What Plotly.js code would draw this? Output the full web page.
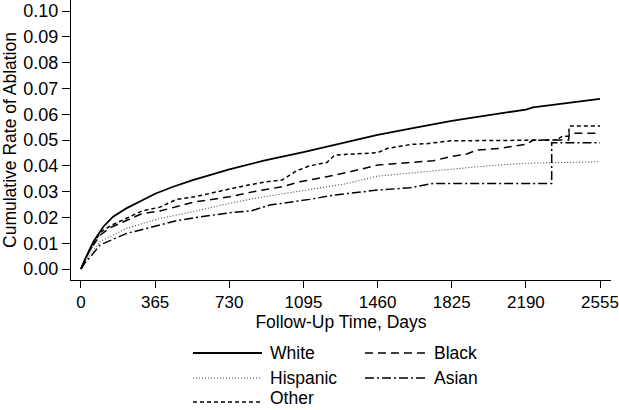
<!DOCTYPE html>
<html>
<head>
<meta charset="utf-8">
<script src="https://cdn.plot.ly/plotly-3.0.1.min.js"></script>
<style>html,body{margin:0;padding:0;background:#fff;}#chart{width:619px;height:410px;}</style>
</head>
<body>
<div id="chart"></div>
<script>
// ---- data ----
const seriesNames = ["White", "Black", "Hispanic", "Asian", "Other"];

const whiteDays = [0, 15, 30, 61, 110, 158, 225, 290, 365, 450, 550, 730, 900, 1095, 1280, 1460, 1640, 1825, 2000, 2190, 2225, 2300, 2420, 2555];
const whiteRate = [0, 0.003, 0.0055, 0.0106, 0.0164, 0.0203, 0.0236, 0.0262, 0.0292, 0.0318, 0.0345, 0.0386, 0.0420, 0.0453, 0.0486, 0.0520, 0.0547, 0.0574, 0.0596, 0.0618, 0.0627, 0.0635, 0.0647, 0.0660];

const blackDays = [0, 20, 50, 93, 143, 225, 300, 389, 480, 560, 730, 850, 990, 1078, 1210, 1324, 1461, 1620, 1735, 1817, 1899, 1948, 2063, 2194, 2227, 2400, 2404, 2555];
const blackRate = [0, 0.004, 0.008, 0.013, 0.016, 0.019, 0.0215, 0.0225, 0.0245, 0.026, 0.028, 0.030, 0.0319, 0.0338, 0.0358, 0.0377, 0.0403, 0.0412, 0.0420, 0.0435, 0.0446, 0.0461, 0.0468, 0.0484, 0.0500, 0.0500, 0.0526, 0.0526];

const hispanicDays = [0, 20, 50, 93, 225, 389, 552, 730, 900, 1095, 1300, 1460, 1650, 1825, 2000, 2190, 2300, 2400, 2555];
const hispanicRate = [0, 0.003, 0.006, 0.0106, 0.0158, 0.0196, 0.0222, 0.0255, 0.0280, 0.0303, 0.0330, 0.0360, 0.0375, 0.0388, 0.0400, 0.0410, 0.0412, 0.0415, 0.0416];

const asianDays = [0, 20, 50, 93, 225, 389, 475, 552, 730, 840, 930, 1125, 1250, 1460, 1620, 1735, 2317, 2317, 2555];
const asianRate = [0, 0.0025, 0.005, 0.0093, 0.0138, 0.0170, 0.0188, 0.0198, 0.0218, 0.0226, 0.0248, 0.0270, 0.0287, 0.0306, 0.0315, 0.0332, 0.0332, 0.0490, 0.0490];

const otherDays = [0, 20, 50, 93, 143, 225, 300, 389, 470, 560, 660, 730, 820, 910, 990, 1060, 1125, 1210, 1250, 1460, 1510, 1625, 1700, 1820, 2340, 2370, 2400, 2404, 2555];
const otherRate = [0, 0.004, 0.008, 0.014, 0.0167, 0.0197, 0.0225, 0.0240, 0.0270, 0.0280, 0.0296, 0.0310, 0.0325, 0.0338, 0.0345, 0.0380, 0.0400, 0.0413, 0.0442, 0.0451, 0.0468, 0.0483, 0.0486, 0.0497, 0.0500, 0.0515, 0.0515, 0.0554, 0.0554];

const xTicks = [0, 365, 730, 1095, 1460, 1825, 2190, 2555];
const yTicks = [0, 0.01, 0.02, 0.03, 0.04, 0.05, 0.06, 0.07, 0.08, 0.09, 0.10];

// ---- styles ----
const styles = {
  White:    {color: "#000", width: 1.8, dash: "solid"},
  Black:    {color: "#000", width: 1.5, dash: "8px,5px"},
  Hispanic: {color: "#444", width: 1.1, dash: "1px,2px"},
  Asian:    {color: "#000", width: 1.5, dash: "9px,3px,2px,3px"},
  Other:    {color: "#000", width: 1.5, dash: "4px,3px"}
};
const seriesData = {
  White: [whiteDays, whiteRate],
  Black: [blackDays, blackRate],
  Hispanic: [hispanicDays, hispanicRate],
  Asian: [asianDays, asianRate],
  Other: [otherDays, otherRate]
};

const traces = seriesNames.map(n => ({
  type: "scatter", mode: "lines", name: n,
  x: seriesData[n][0], y: seriesData[n][1],
  line: Object.assign({shape: "linear"}, styles[n]),
  showlegend: false, hoverinfo: "skip"
}));

const FONT = "Liberation Sans, Arial, Helvetica, sans-serif";

// custom legend (paper coords) to mimic the wide legend keys
const legendPos = {
  White:    {x0: 0.2259, x1: 0.3537, tx: 0.3667, y: -0.2607, ty: -0.2607},
  Hispanic: {x0: 0.2259, x1: 0.3537, tx: 0.3667, y: -0.3500, ty: -0.3500},
  Other:    {x0: 0.2259, x1: 0.3537, tx: 0.3667, y: -0.4357, ty: -0.4200},
  Black:    {x0: 0.5444, x1: 0.6611, tx: 0.6704, y: -0.2607, ty: -0.2607},
  Asian:    {x0: 0.5444, x1: 0.6611, tx: 0.6704, y: -0.3500, ty: -0.3500}
};
const shapes = seriesNames.map(n => ({
  type: "line", xref: "paper", yref: "paper",
  x0: legendPos[n].x0, x1: legendPos[n].x1, y0: legendPos[n].y, y1: legendPos[n].y,
  line: {color: styles[n].color, width: styles[n].width, dash: styles[n].dash}
}));
const annotations = seriesNames.map(n => ({
  xref: "paper", yref: "paper", x: legendPos[n].tx, y: legendPos[n].ty,
  xanchor: "left", yanchor: "middle", showarrow: false, text: n, borderpad: 0,
  font: {family: FONT, size: 17.5, color: "#000"}
}));

const layout = {
  width: 619, height: 410,
  margin: {l: 71, r: 8, t: 0, b: 130, pad: 0},
  paper_bgcolor: "#fff", plot_bgcolor: "#fff",
  font: {family: FONT, color: "#000", size: 17.5},
  xaxis: {
    range: [-49.2, 2609], tickvals: xTicks, ticktext: xTicks.map(String),
    showgrid: false, zeroline: false, showline: true, linecolor: "#000", linewidth: 1,
    ticks: "outside", ticklen: 7, tickwidth: 1, tickcolor: "#000",
    tickfont: {family: FONT, size: 17, color: "#000"},
    ticklabeloverflow: "allow",
    title: {text: "Follow-Up Time, Days", font: {family: FONT, size: 17.5, color: "#000"}, standoff: 0},
    automargin: false
  },
  yaxis: {
    range: [-0.00426, 0.1043], tickvals: yTicks, ticktext: yTicks.map(v => v.toFixed(2)),
    showgrid: false, zeroline: false, showline: true, linecolor: "#000", linewidth: 1,
    ticks: "outside", ticklen: 8, tickwidth: 1, tickcolor: "#000",
    tickfont: {family: FONT, size: 18, color: "#000"},
    title: {text: "Cumulative Rate of Ablation", font: {family: FONT, size: 17.5, color: "#000"}, standoff: 6},
    automargin: false
  },
  shapes: shapes,
  annotations: annotations,
  showlegend: false
};

Plotly.newPlot("chart", traces, layout, {staticPlot: true, displayModeBar: false});
</script>
</body>
</html>
